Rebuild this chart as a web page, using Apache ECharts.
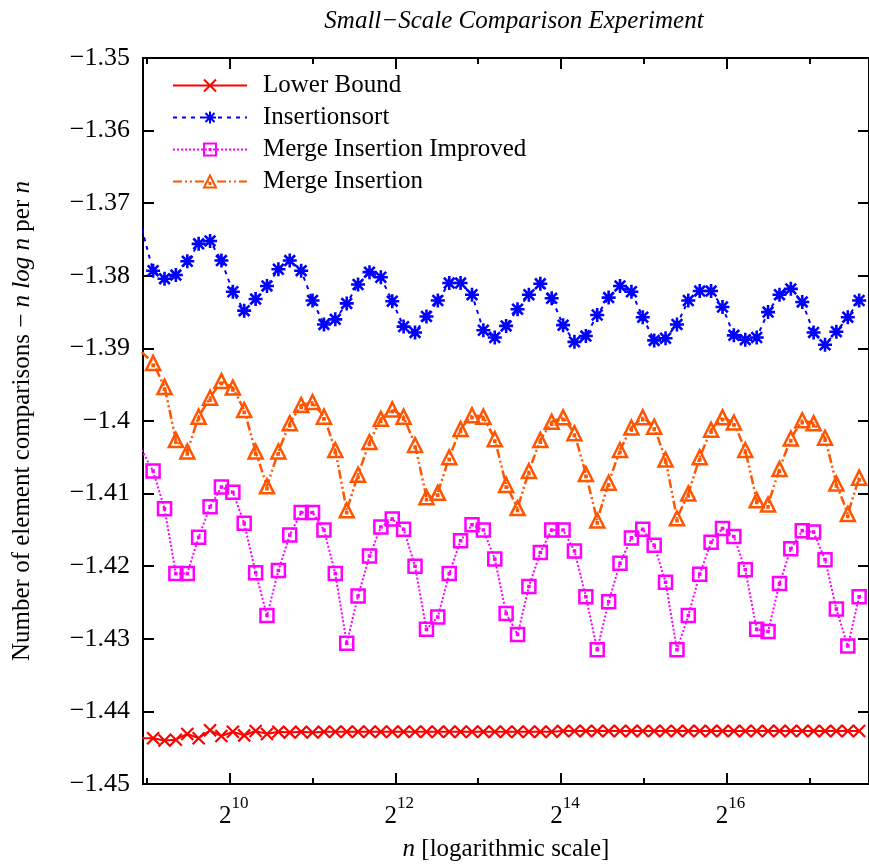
<!DOCTYPE html>
<html>
<head>
<meta charset="utf-8">
<script src="https://cdn.jsdelivr.net/npm/echarts@6/dist/echarts.min.js"></script>
<style>html,body{margin:0;padding:0;background:#fff;overflow:hidden;}#c{width:869px;height:867px;}</style>
</head>
<body>
<div id="c"></div>
<script>
// x positions: log2(n) of each measured input size
const log2N = [8.938, 9.075, 9.213, 9.350, 9.488, 9.625, 9.763, 9.900, 10.038, 10.175,
  10.313, 10.450, 10.588, 10.725, 10.863, 11.000, 11.138, 11.275, 11.413, 11.550,
  11.688, 11.825, 11.963, 12.100, 12.238, 12.376, 12.513, 12.651, 12.788, 12.926,
  13.063, 13.201, 13.338, 13.476, 13.613, 13.751, 13.888, 14.026, 14.163, 14.301,
  14.438, 14.576, 14.713, 14.851, 14.988, 15.126, 15.263, 15.401, 15.538, 15.676,
  15.813, 15.951, 16.088, 16.226, 16.364, 16.501, 16.639, 16.776, 16.914, 17.051,
  17.189, 17.326, 17.464, 17.601];

const lowerBound = [-1.4437, -1.4437, -1.4440, -1.4439, -1.4431, -1.4437, -1.4426, -1.4434, -1.4428, -1.4433,
  -1.4427, -1.4431, -1.4428, -1.4429, -1.4428, -1.4429, -1.4428, -1.4428, -1.4428, -1.4428,
  -1.4428, -1.4428, -1.4428, -1.4428, -1.4428, -1.4428, -1.4428, -1.4428, -1.4428, -1.4428,
  -1.4428, -1.4428, -1.4428, -1.4428, -1.4428, -1.4428, -1.4428, -1.4427, -1.4427, -1.4427,
  -1.4427, -1.4427, -1.4427, -1.4427, -1.4427, -1.4427, -1.4427, -1.4427, -1.4427, -1.4427,
  -1.4427, -1.4427, -1.4427, -1.4427, -1.4427, -1.4427, -1.4427, -1.4427, -1.4427, -1.4427,
  -1.4427, -1.4427, -1.4427, -1.4427];

const insertionsort = [-1.3735, -1.3793, -1.3804, -1.3799, -1.3780, -1.3756, -1.3752, -1.3779, -1.3822, -1.3848,
  -1.3832, -1.3814, -1.3791, -1.3779, -1.3793, -1.3834, -1.3867, -1.3860, -1.3838, -1.3812,
  -1.3795, -1.3802, -1.3835, -1.3870, -1.3878, -1.3856, -1.3834, -1.3810, -1.3810, -1.3826,
  -1.3875, -1.3885, -1.3869, -1.3846, -1.3826, -1.3811, -1.3831, -1.3868, -1.3891, -1.3883,
  -1.3854, -1.3830, -1.3814, -1.3822, -1.3857, -1.3889, -1.3886, -1.3867, -1.3834, -1.3821,
  -1.3821, -1.3843, -1.3882, -1.3888, -1.3885, -1.3850, -1.3826, -1.3818, -1.3836, -1.3878,
  -1.3895, -1.3877, -1.3857, -1.3834];

const mergeInsertionImproved = [-1.4040, -1.4069, -1.4121, -1.4210, -1.4210, -1.4160, -1.4118, -1.4091, -1.4098, -1.4141,
  -1.4209, -1.4268, -1.4206, -1.4157, -1.4126, -1.4126, -1.4150, -1.4210, -1.4306, -1.4241,
  -1.4186, -1.4146, -1.4135, -1.4149, -1.4200, -1.4287, -1.4270, -1.4210, -1.4165, -1.4143,
  -1.4150, -1.4190, -1.4265, -1.4294, -1.4228, -1.4181, -1.4150, -1.4150, -1.4179, -1.4242,
  -1.4315, -1.4249, -1.4196, -1.4161, -1.4149, -1.4171, -1.4222, -1.4315, -1.4268, -1.4211,
  -1.4167, -1.4148, -1.4159, -1.4205, -1.4287, -1.4290, -1.4224, -1.4176, -1.4151, -1.4153,
  -1.4191, -1.4259, -1.4310, -1.4242];

const mergeInsertion = [-1.3905, -1.3920, -1.3953, -1.4026, -1.4042, -1.3994, -1.3968, -1.3945, -1.3954, -1.3985,
  -1.4042, -1.4090, -1.4042, -1.4003, -1.3978, -1.3974, -1.3994, -1.4040, -1.4123, -1.4074,
  -1.4029, -1.3997, -1.3984, -1.3994, -1.4033, -1.4105, -1.4099, -1.4050, -1.4011, -1.3992,
  -1.3994, -1.4025, -1.4088, -1.4120, -1.4069, -1.4026, -1.4001, -1.3995, -1.4017, -1.4073,
  -1.4137, -1.4085, -1.4040, -1.4009, -1.3995, -1.4008, -1.4053, -1.4134, -1.4100, -1.4050,
  -1.4012, -1.3995, -1.4002, -1.4040, -1.4109, -1.4115, -1.4066, -1.4024, -1.3999, -1.4003,
  -1.4023, -1.4086, -1.4128, -1.4078];

const majorXTicks = [10, 12, 14, 16];
const minorXTicks = [9, 11, 13, 15, 17];
const seriesNames = ['Lower Bound', 'Insertionsort', 'Merge Insertion Improved', 'Merge Insertion'];

const FONT = "'Liberation Serif', 'Times New Roman', serif";
const X_MIN = 8.953, X_MAX = 17.72;
const zip = (ys) => log2N.map((x, i) => [x, ys[i]]);

const crossPath = 'path://M0,0L10,10M10,0L0,10';
const starPath = 'path://M1.2,1.2L8.8,8.8M8.8,1.2L1.2,8.8M5,0L5,10M0,5L10,5';
const squarePath = 'path://M0,0L10,0L10,10L0,10ZM4.6,4.6L5.4,4.6L5.4,5.4L4.6,5.4Z';
const triPath = 'path://M5,0L10.4,9L-0.4,9ZM4.6,5.6L5.4,5.6L5.4,6.4L4.6,6.4Z';

function axisX(position, ticks, len, labels) {
  return {
    type: 'value', position: position, min: X_MIN, max: X_MAX,
    axisLine: { show: true, onZero: false, lineStyle: { color: '#000', width: 2 } },
    axisTick: { show: true, inside: true, length: len, customValues: ticks, lineStyle: { color: '#000', width: 2 } },
    axisLabel: labels ? {
      show: true, customValues: ticks, margin: 11,
      formatter: (v) => '{b|2}{s|' + Math.round(v) + '}',
      rich: {
        b: { fontFamily: FONT, fontSize: 25, color: '#000', lineHeight: 34, verticalAlign: 'bottom', padding: [0, 0, 0, 8] },
        s: { fontFamily: FONT, fontSize: 17, color: '#000', lineHeight: 20, verticalAlign: 'top' }
      }
    } : { show: false },
    splitLine: { show: false }
  };
}

const xAxes = [axisX('bottom', majorXTicks, 11, true), axisX('bottom', minorXTicks, 6, false),
  axisX('top', majorXTicks, 11, false), axisX('top', minorXTicks, 6, false)];
xAxes[0].name = '{i|n} [logarithmic scale]';
xAxes[0].nameLocation = 'middle';
xAxes[0].nameGap = 53;
xAxes[0].nameTextStyle = { fontFamily: FONT, fontSize: 25, color: '#000', rich: { i: { fontFamily: FONT, fontSize: 25, fontStyle: 'italic', color: '#000' } } };

function axisY(position, labels) {
  return {
    type: 'value', position: position, min: -1.45, max: -1.35, interval: 0.01,
    axisLine: { show: true, onZero: false, lineStyle: { color: '#000', width: 2 } },
    axisTick: { show: true, inside: true, length: 11, lineStyle: { color: '#000', width: 2 } },
    axisLabel: labels ? {
      show: true, margin: 13, fontFamily: FONT, fontSize: 26, color: '#000',
      formatter: (v) => String(Math.round(v * 100) / 100).replace('-', '\u2212')
    } : { show: false },
    splitLine: { show: false }
  };
}
const yAxes = [axisY('left', true), axisY('right', false)];
yAxes[0].name = 'Number of element comparisons \u2212 {i|n log n} per {i|n}';
yAxes[0].nameLocation = 'middle';
yAxes[0].nameGap = 108;
yAxes[0].nameRotate = 90;
yAxes[0].nameTextStyle = { fontFamily: FONT, fontSize: 25, color: '#000', rich: { i: { fontFamily: FONT, fontSize: 25, fontStyle: 'italic', color: '#000' } } };

function lineSeries(name, ys, color, symbol, size, dash, width, bw) {
  return {
    name: name, type: 'line', data: zip(ys), xAxisIndex: 0, yAxisIndex: 0,
    symbol: symbol, symbolSize: size, showAllSymbol: true, clip: true,
    lineStyle: { color: color, width: width, type: dash, cap: 'butt' },
    itemStyle: { color: 'rgba(0,0,0,0)', borderColor: color, borderWidth: bw },
    emphasis: { disabled: true }, silent: true
  };
}

const chart = echarts.init(document.getElementById('c'), null, { renderer: 'canvas' });
chart.setOption({
  animation: false,
  backgroundColor: '#fff',
  title: {
    text: 'Small\u2212Scale Comparison Experiment', left: 509, top: 4, textAlign: 'center',
    textStyle: { fontFamily: FONT, fontSize: 25, fontStyle: 'italic', fontWeight: 'normal', color: '#000' }
  },
  legend: {
    orient: 'vertical', left: 172, top: 73, padding: 0, itemWidth: 74, itemHeight: 15, itemGap: 7,
    data: seriesNames, selectedMode: false,
    textStyle: { fontFamily: FONT, fontSize: 25, color: '#000', lineHeight: 25, padding: [0, 0, 0, 11] }
  },
  grid: { left: 143, top: 58, width: 729, height: 731, containLabel: false },
  xAxis: xAxes,
  yAxis: yAxes,
  series: [
    lineSeries(seriesNames[0], lowerBound, '#ff0000', crossPath, 12, 'solid', 2, 2.2),
    lineSeries(seriesNames[1], insertionsort, '#0000ff', starPath, 14, [4, 5], 2, 2.6),
    lineSeries(seriesNames[2], mergeInsertionImproved, '#ff00ff', squarePath, 13, [2, 2], 2, 2.5),
    lineSeries(seriesNames[3], mergeInsertion, '#ff5500', triPath, 14, [9, 3, 2, 3, 2, 3], 2.5, 2.5)
  ]
});
</script>
</body>
</html>
